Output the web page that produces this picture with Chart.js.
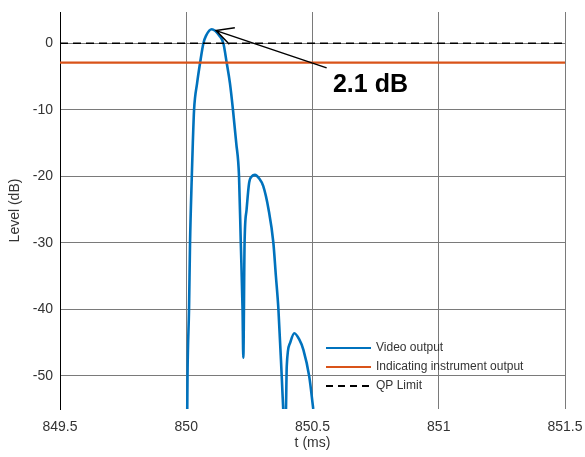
<!DOCTYPE html>
<html>
<head>
<meta charset="utf-8">
<script src="https://cdn.jsdelivr.net/npm/chart.js@4.4.0/dist/chart.umd.min.js"></script>
<style>
  body { margin: 0; background: #fff; }
  #wrap { width: 585px; height: 457px; }
</style>
</head>
<body>
<div id="wrap"><canvas id="myChart" width="585" height="457"></canvas></div>
<script>
// values
const videoT = [
  850.003, 850.005, 850.011, 850.015, 850.022, 850.026, 850.031, 850.043, 850.055, 850.068,
  850.078, 850.101, 850.132, 850.147, 850.160, 850.173, 850.185, 850.198, 850.209, 850.216,
  850.223, 850.226,
  850.231, 850.239, 850.249, 850.260, 850.272, 850.288, 850.305, 850.326, 850.345, 850.355,
  850.365, 850.378, 850.384,
  850.390, 850.395, 850.398, 850.411, 850.428, 850.447, 850.464, 850.487, 850.503
];
const videoLevel = [
  -60, -50, -40, -30, -20, -15, -10, -6, -2.9, 0,
  1.1, 2.1, 1.1, 0, -2.9, -6, -10, -15, -20, -30,
  -40, -47.3,
  -30, -25, -21, -20, -19.8, -20.3, -21.5, -25, -30, -35,
  -40, -50, -55,
  -60, -55, -48.6, -45.1, -43.6, -44.5, -46.1, -50.1, -55
];
const indicatingLevel = -2.9;
const qpLimit = 0;
const tRange = [849.5, 851.5];
const levelRange = [-55, 4.7];
const xTicks = [849.5, 850, 850.5, 851, 851.5];
const yTicks = [0, -10, -20, -30, -40, -50];
const seriesNames = ["Video output", "Indicating instrument output", "QP Limit"];
const peakLabel = "2.1 dB";
const peakPoint = [850.118, 1.9];
const labelPoint = [850.556, -3.7];
const labelText = [850.581, -7.3];

const blue = "#0072BD";
const orange = "#D95319";
const textColor = "#333";
const gridColor = "#7a7a7a";

const extras = {
  id: "extras",
  afterDraw(chart) {
    const ctx = chart.ctx;
    const xs = chart.scales.x, ys = chart.scales.y;
    const area = chart.chartArea;
    ctx.save();

    // arrow to the peak
    const tx = xs.getPixelForValue(peakPoint[0]), ty = ys.getPixelForValue(peakPoint[1]);
    const fx = xs.getPixelForValue(labelPoint[0]), fy = ys.getPixelForValue(labelPoint[1]);
    ctx.strokeStyle = "#000";
    ctx.lineWidth = 1.5;
    ctx.beginPath();
    ctx.moveTo(fx, fy);
    ctx.lineTo(tx, ty);
    const ang = Math.atan2(fy - ty, fx - tx);
    const len = 19, spread = 27 * Math.PI / 180;
    ctx.moveTo(tx + len * Math.cos(ang - spread), ty + len * Math.sin(ang - spread));
    ctx.lineTo(tx, ty);
    ctx.lineTo(tx + len * Math.cos(ang + spread), ty + len * Math.sin(ang + spread));
    ctx.stroke();

    ctx.fillStyle = "#000";
    ctx.font = "bold 25px 'Liberation Sans', Arial, sans-serif";
    ctx.textAlign = "left";
    ctx.textBaseline = "alphabetic";
    ctx.fillText(peakLabel, xs.getPixelForValue(labelText[0]), ys.getPixelForValue(labelText[1]));

    // legend inside the plot, no box
    const colors = [blue, orange, "#000"];
    const dashes = [[], [], [7, 5]];
    const lx = area.right - 239, ly = area.bottom - 61;
    ctx.font = "12px 'Liberation Sans', Arial, sans-serif";
    ctx.textBaseline = "middle";
    seriesNames.forEach((name, i) => {
      const y = ly + i * 19;
      ctx.strokeStyle = colors[i];
      ctx.lineWidth = 2;
      ctx.setLineDash(dashes[i]);
      ctx.beginPath();
      ctx.moveTo(lx, y);
      ctx.lineTo(lx + 45, y);
      ctx.stroke();
      ctx.setLineDash([]);
      ctx.fillStyle = textColor;
      ctx.fillText(name, lx + 50, y);
    });

    // axis titles
    ctx.font = "14px 'Liberation Sans', Arial, sans-serif";
    ctx.fillStyle = textColor;
    ctx.textAlign = "center";
    ctx.fillText("t (ms)", (area.left + area.right) / 2, 443);
    ctx.translate(15, (area.top + area.bottom) / 2);
    ctx.rotate(-Math.PI / 2);
    ctx.fillText("Level (dB)", 0, 0);
    ctx.restore();
  }
};

new Chart(document.getElementById("myChart").getContext("2d"), {
  type: "scatter",
  data: {
    datasets: [
      {
        label: seriesNames[0],
        data: videoT.map((t, i) => ({ x: t, y: videoLevel[i] })),
        showLine: true,
        borderColor: blue,
        borderWidth: 2.6,
        pointRadius: 0,
        cubicInterpolationMode: "monotone",
        order: 3
      },
      {
        label: seriesNames[1],
        data: tRange.map(t => ({ x: t, y: indicatingLevel })),
        showLine: true,
        borderColor: orange,
        borderWidth: 2.2,
        pointRadius: 0,
        order: 2
      },
      {
        label: seriesNames[2],
        data: tRange.map(t => ({ x: t, y: qpLimit })),
        showLine: true,
        borderColor: "#000",
        borderWidth: 1.6,
        borderDash: [8, 5],
        pointRadius: 0,
        order: 1
      }
    ]
  },
  options: {
    responsive: false,
    animation: false,
    layout: { padding: { left: 0, top: 12, right: 20, bottom: 0 } },
    plugins: { legend: { display: false }, tooltip: { enabled: false } },
    scales: {
      x: {
        type: "linear",
        min: tRange[0],
        max: tRange[1],
        afterBuildTicks: s => { s.ticks = xTicks.map(v => ({ value: v })); },
        afterFit: s => { s.height = 48; s.paddingLeft = 0; s.paddingRight = 0; },
        grid: { color: gridColor, lineWidth: 1, drawTicks: false },
        border: { display: false },
        ticks: {
          padding: 10,
          color: textColor,
          font: { family: "'Liberation Sans', Arial, sans-serif", size: 14 },
          callback: v => String(v)
        }
      },
      y: {
        min: levelRange[0],
        max: levelRange[1],
        afterBuildTicks: s => { s.ticks = yTicks.map(v => ({ value: v })); },
        afterFit: s => { s.width = 60; s.paddingTop = 0; s.paddingBottom = 0; },
        grid: { color: gridColor, lineWidth: 1, drawTicks: false },
        border: { display: true, color: "#000", width: 1 },
        ticks: {
          padding: 7,
          color: textColor,
          font: { family: "'Liberation Sans', Arial, sans-serif", size: 14 },
          callback: v => String(v)
        }
      }
    }
  },
  plugins: [extras]
});
</script>
</body>
</html>
